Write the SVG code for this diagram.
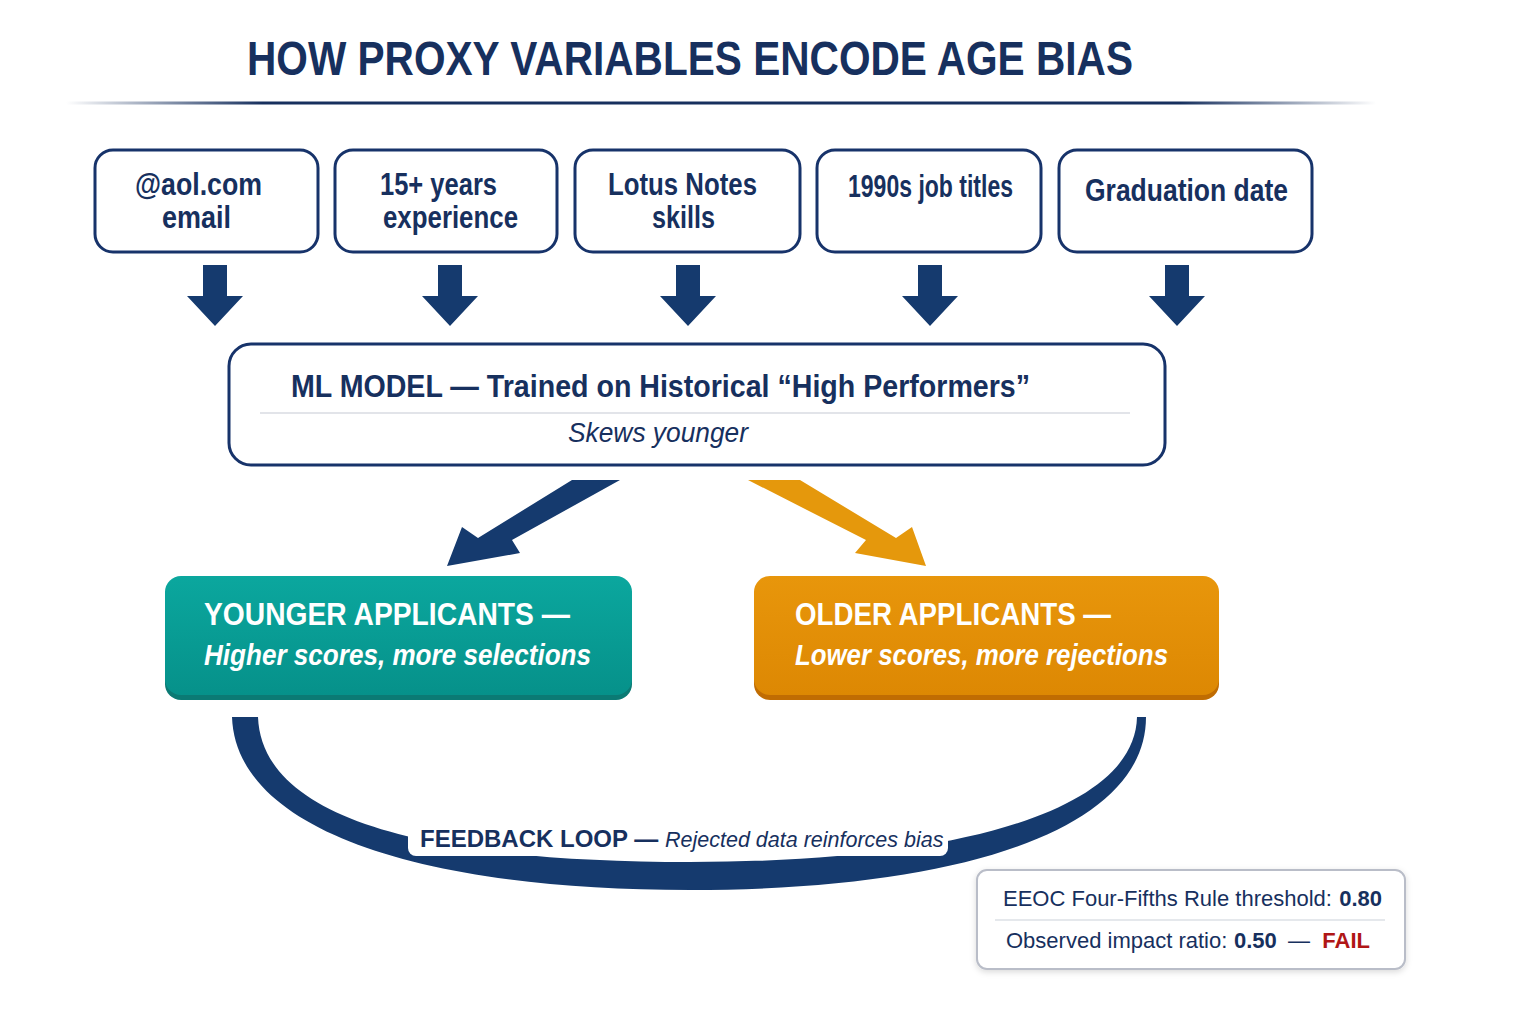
<svg xmlns="http://www.w3.org/2000/svg" width="1536" height="1024" viewBox="0 0 1536 1024">
<style>
.t{font-family:"Liberation Sans",Arial,sans-serif;font-weight:bold;fill:#17305e}
.it{font-style:italic}
.w{fill:#ffffff}
.box{fill:#ffffff;stroke:#17336a;stroke-width:3}
.arr{fill:#153a6e}
.e{font-family:"Liberation Sans",Arial,sans-serif;fill:#17305e;font-size:22px}
.eb{font-weight:bold}
</style>
<defs>
<linearGradient id="rule" x1="0" x2="1" y1="0" y2="0">
<stop offset="0" stop-color="#17305e" stop-opacity="0"/>
<stop offset="0.15" stop-color="#17305e"/>
<stop offset="0.85" stop-color="#17305e"/>
<stop offset="1" stop-color="#17305e" stop-opacity="0"/>
</linearGradient>
<linearGradient id="teal" x1="0" x2="0" y1="0" y2="1">
<stop offset="0" stop-color="#0ba79e"/>
<stop offset="1" stop-color="#06918a"/>
</linearGradient>
<linearGradient id="orange" x1="0" x2="0" y1="0" y2="1">
<stop offset="0" stop-color="#e8960b"/>
<stop offset="1" stop-color="#dd8803"/>
</linearGradient>
<filter id="sh" x="-5%" y="-10%" width="110%" height="130%">
<feDropShadow dx="0" dy="2" stdDeviation="3" flood-color="#000" flood-opacity="0.15"/>
</filter>
</defs>
<rect width="1536" height="1024" fill="#ffffff"/>

<g id="title">
<text class="t" x="247" y="75" font-size="48" textLength="886" lengthAdjust="spacingAndGlyphs">HOW PROXY VARIABLES ENCODE AGE BIAS</text>
<rect x="66" y="101.5" width="1310" height="3" fill="url(#rule)"/>
</g>

<g id="proxy-aol">
<rect class="box" x="95" y="150" width="223" height="102" rx="18"/>
<text class="t" x="135" y="195" font-size="32" textLength="127" lengthAdjust="spacingAndGlyphs">@aol.com</text>
<text class="t" x="162" y="228" font-size="32" textLength="69" lengthAdjust="spacingAndGlyphs">email</text>
</g>
<g id="proxy-experience">
<rect class="box" x="335" y="150" width="222" height="102" rx="18"/>
<text class="t" x="380" y="195" font-size="32" textLength="117" lengthAdjust="spacingAndGlyphs">15+ years</text>
<text class="t" x="383" y="228" font-size="32" textLength="135" lengthAdjust="spacingAndGlyphs">experience</text>
</g>
<g id="proxy-lotus">
<rect class="box" x="575" y="150" width="225" height="102" rx="18"/>
<text class="t" x="608" y="195" font-size="32" textLength="149" lengthAdjust="spacingAndGlyphs">Lotus Notes</text>
<text class="t" x="652" y="228" font-size="32" textLength="63" lengthAdjust="spacingAndGlyphs">skills</text>
</g>
<g id="proxy-1990s">
<rect class="box" x="817" y="150" width="224" height="102" rx="18"/>
<text class="t" x="848" y="197" font-size="32" textLength="165" lengthAdjust="spacingAndGlyphs">1990s job titles</text>
</g>
<g id="proxy-graduation">
<rect class="box" x="1059" y="150" width="253" height="102" rx="18"/>
<text class="t" x="1085" y="201" font-size="32" textLength="203" lengthAdjust="spacingAndGlyphs">Graduation date</text>
</g>

<g id="connectors">
<path class="arr" d="M203,265 H227 V296 H243 L215,326 L187,296 H203 Z"/>
<path class="arr" d="M438,265 H462 V296 H478 L450,326 L422,296 H438 Z"/>
<path class="arr" d="M676,265 H700 V296 H716 L688,326 L660,296 H676 Z"/>
<path class="arr" d="M918,265 H942 V296 H958 L930,326 L902,296 H918 Z"/>
<path class="arr" d="M1165,265 H1189 V296 H1205 L1177,326 L1149,296 H1165 Z"/>
<path class="arr" d="M572,480 H620 L512,540 L520,553 L447,566 L462,527 L478,538 Z"/>
<path d="M748,480 H800 L896,538 L912,527 L926,566 L855,553 L866,540 Z" fill="#e5980c"/>
<path class="arr" d="M232,717 C236,830 420,890 690,890 C960,890 1146,830 1146,717 L1137,717 C1135,810 960,862 690,862 C430,862 262,820 258,717 Z"/>
</g>

<g id="ml-model">
<rect class="box" x="229" y="344" width="936" height="121" rx="22" stroke-width="3.5"/>
<text class="t" x="291" y="397" font-size="32" textLength="739" lengthAdjust="spacingAndGlyphs">ML MODEL — Trained on Historical “High Performers”</text>
<line x1="260" y1="413" x2="1130" y2="413" stroke="#d8dbe2" stroke-width="1.5"/>
<text class="t it" x="568" y="442" font-size="28" textLength="180" lengthAdjust="spacingAndGlyphs" style="font-weight:normal">Skews younger</text>
</g>

<g id="younger">
<rect x="165" y="580" width="467" height="120" rx="16" fill="#0b7a74"/>
<rect x="165" y="576" width="467" height="119" rx="16" fill="url(#teal)"/>
<text class="t w" x="204" y="625" font-size="32" textLength="366" lengthAdjust="spacingAndGlyphs">YOUNGER APPLICANTS —</text>
<text class="t w it" x="204" y="665" font-size="30" textLength="387" lengthAdjust="spacingAndGlyphs">Higher scores, more selections</text>
</g>

<g id="older">
<rect x="754" y="580" width="465" height="120" rx="16" fill="#c06c02"/>
<rect x="754" y="576" width="465" height="119" rx="16" fill="url(#orange)"/>
<text class="t w" x="795" y="625" font-size="32" textLength="316" lengthAdjust="spacingAndGlyphs">OLDER APPLICANTS —</text>
<text class="t w it" x="795" y="665" font-size="30" textLength="373" lengthAdjust="spacingAndGlyphs">Lower scores, more rejections</text>
</g>

<g id="feedback-label">
<rect x="408" y="817" width="540" height="39" rx="8" fill="#ffffff"/>
<text class="t" x="420" y="847" font-size="24">FEEDBACK LOOP —</text>
<text class="t it" x="665" y="847" font-size="21.5" style="font-weight:normal">Rejected data reinforces bias</text>
</g>

<g id="eeoc">
<rect x="977" y="870" width="428" height="99" rx="10" fill="#ffffff" stroke="#b9bdc8" stroke-width="2" filter="url(#sh)"/>
<text class="e" x="1003" y="906">EEOC Four-Fifths Rule threshold:</text>
<text class="e eb" x="1382" y="906" text-anchor="end">0.80</text>
<line x1="995" y1="920" x2="1385" y2="920" stroke="#dde0e6" stroke-width="1.5"/>
<text class="e" x="1006" y="948">Observed impact ratio:</text>
<text class="e eb" x="1234" y="948">0.50</text>
<text class="e" x="1288" y="948">—</text>
<text class="e eb" x="1370" y="948" text-anchor="end" style="fill:#b01616">FAIL</text>
</g>
</svg>
